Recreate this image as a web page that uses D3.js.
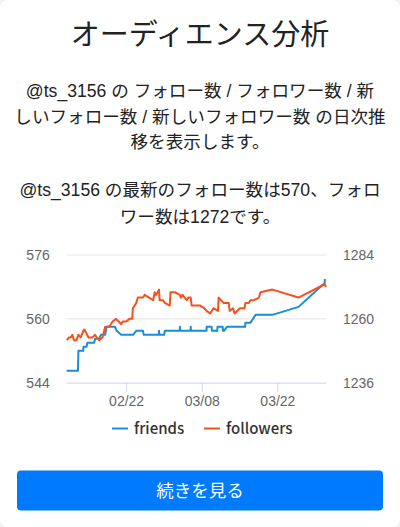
<!DOCTYPE html>
<html>
<head>
<meta charset="utf-8">
<script src="https://cdn.jsdelivr.net/npm/d3@7"></script>
<style>
  html, body { margin: 0; padding: 0; background: #f2f2f2; }
  svg { display: block; }
</style>
</head>
<body>
<svg id="chart" width="400" height="527"></svg>
<script>
// ---- data ----
const titleText = "オーディエンス分析";
const descLines = [
  "@ts_3156 の フォロー数 / フォロワー数 / 新",
  "しいフォロー数 / 新しいフォロワー数 の日次推",
  "移を表示します。"
];
const latestLines = [
  "@ts_3156 の最新のフォロー数は570、フォロ",
  "ワー数は1272です。"
];
const seriesNames = ["friends", "followers"];
const seriesColors = ["#1a8cd8", "#f4511e"];
const buttonText = "続きを見る";

const friendsTimes = [
  "2021-02-11T00:00","2021-02-13T02:00","2021-02-13T04:00","2021-02-14T01:00","2021-02-14T03:00",
  "2021-02-14T16:00","2021-02-14T20:00","2021-02-16T02:00","2021-02-16T06:00","2021-02-17T00:00",
  "2021-02-17T08:00","2021-02-18T03:00","2021-02-18T09:00","2021-02-19T23:00","2021-02-20T06:00",
  "2021-02-21T02:00","2021-02-23T06:00","2021-02-23T21:00","2021-02-25T03:00","2021-02-25T06:00",
  "2021-02-28T01:00","2021-02-28T02:00","2021-02-28T04:00","2021-03-01T01:00","2021-03-01T04:00",
  "2021-03-03T22:00","2021-03-03T23:00","2021-03-04T00:00","2021-03-05T22:00","2021-03-05T23:00",
  "2021-03-06T00:00","2021-03-08T21:00","2021-03-08T22:00","2021-03-09T20:00","2021-03-09T21:00",
  "2021-03-10T21:00","2021-03-10T22:00","2021-03-11T21:00","2021-03-11T22:00","2021-03-12T03:00",
  "2021-03-12T16:00","2021-03-16T01:00","2021-03-16T02:00","2021-03-17T00:00","2021-03-17T23:00",
  "2021-03-21T02:00","2021-03-25T22:00","2021-03-30T18:00","2021-03-30T19:00"
];
const friendsValues = [
  547,547,552,552,553,
  553,554,554,555,555,
  556,556,558,558,557,
  556,556,557,557,556,
  556,557,556,556,557,
  557,558,557,557,558,
  557,557,558,558,557,
  557,558,558,557,557,
  558,558,559,559,561,
  561,563,569,570
];

const followersTimes = [
  "2021-02-11T00:00","2021-02-11T10:00","2021-02-11T18:00","2021-02-12T01:00","2021-02-12T08:00",
  "2021-02-12T19:00","2021-02-13T04:00","2021-02-13T14:00","2021-02-14T05:00","2021-02-14T13:00",
  "2021-02-15T01:00","2021-02-15T19:00","2021-02-16T05:00","2021-02-16T14:00","2021-02-17T00:00",
  "2021-02-17T15:00","2021-02-18T03:00","2021-02-18T21:00","2021-02-19T12:00","2021-02-20T03:00",
  "2021-02-20T15:00","2021-02-21T02:00","2021-02-21T09:00","2021-02-22T00:00","2021-02-22T15:00",
  "2021-02-23T03:00","2021-02-23T06:00","2021-02-23T21:00","2021-02-24T04:00","2021-02-25T03:00",
  "2021-02-25T10:00","2021-02-26T06:00","2021-02-27T00:00","2021-02-27T07:00","2021-02-27T14:00",
  "2021-02-28T02:00","2021-02-28T05:00","2021-02-28T20:00","2021-03-01T04:00","2021-03-02T02:00",
  "2021-03-02T05:00","2021-03-03T00:00","2021-03-03T23:00","2021-03-04T03:00","2021-03-04T11:00",
  "2021-03-05T05:00","2021-03-05T12:00","2021-03-05T23:00","2021-03-06T03:00","2021-03-07T02:00",
  "2021-03-07T17:00","2021-03-08T11:00","2021-03-08T22:00","2021-03-09T13:00","2021-03-10T04:00",
  "2021-03-11T00:00","2021-03-11T03:00","2021-03-12T01:00","2021-03-13T00:00","2021-03-13T04:00",
  "2021-03-13T19:00","2021-03-14T02:00","2021-03-15T01:00","2021-03-15T22:00","2021-03-16T02:00",
  "2021-03-16T17:00","2021-03-17T00:00","2021-03-17T16:00","2021-03-18T14:00","2021-03-18T21:00",
  "2021-03-21T02:00","2021-03-25T22:00","2021-03-30T18:00","2021-03-31T00:00"
];
const followersValues = [
  1252,1253,1253,1254,1252,
  1252,1254,1253,1256,1255,
  1253,1253,1254,1253,1252,
  1253,1257,1257,1259,1260,
  1259,1258,1259,1259,1260,
  1260,1264,1266,1268,1268,
  1269,1268,1267,1270,1269,
  1271,1267,1267,1266,1265,
  1270,1270,1269,1268,1269,
  1267,1268,1268,1265,1265,
  1265,1264,1263,1262,1264,
  1263,1268,1266,1266,1263,
  1264,1262,1264,1264,1266,
  1266,1267,1267,1268,1270,
  1271,1268,1273,1272
];

const leftTicks = [544, 560, 576];
const rightTicks = [1236, 1260, 1284];
const xTickDates = ["2021-02-22T00:00", "2021-03-08T00:00", "2021-03-22T00:00"];

// ---- drawing ----
const parse = d3.isoParse;
const svg = d3.select("#chart");
const FONT = "'Helvetica Neue', 'Liberation Sans', 'Noto Sans CJK JP', sans-serif";
const JPFONT = "'Noto Sans CJK JP', sans-serif";

// card
svg.append("rect").attr("x", 0).attr("y", 0).attr("width", 400).attr("height", 527)
  .attr("rx", 8).attr("fill", "#fff");

svg.append("text").attr("x", 200).attr("y", 45).attr("text-anchor", "middle")
  .attr("font-family", FONT).attr("font-size", 29).attr("fill", "#222")
  .text(titleText);

svg.append("g").selectAll("text").data(descLines).join("text")
  .attr("x", 200).attr("y", (d, i) => 97 + i * 25.5)
  .attr("text-anchor", "middle").attr("font-family", FONT).attr("font-size", 17.6).attr("fill", "#222")
  .text(d => d);

svg.append("g").selectAll("text").data(latestLines).join("text")
  .attr("x", 200).attr("y", (d, i) => 196 + i * 26.5)
  .attr("text-anchor", "middle").attr("font-family", FONT).attr("font-size", 17.6).attr("fill", "#222")
  .text(d => d);

const plot = { left: 66.7, right: 326, top: 255, bottom: 382.7 };
const fData = friendsTimes.map((t, i) => ({ t: parse(t), v: friendsValues[i] }));
const foData = followersTimes.map((t, i) => ({ t: parse(t), v: followersValues[i] }));
const allT = fData.concat(foData).map(d => d.t);

const x = d3.scaleTime().domain(d3.extent(allT)).range([plot.left, plot.right]);
const yL = d3.scaleLinear().domain([544, 576]).range([plot.bottom, plot.top]);
const yR = d3.scaleLinear().domain([1236, 1284]).range([plot.bottom, plot.top]);

// gridlines
svg.append("g").selectAll("line").data(leftTicks.slice(1)).join("line")
  .attr("x1", plot.left).attr("x2", plot.right)
  .attr("y1", d => yL(d)).attr("y2", d => yL(d))
  .attr("stroke", "#e6e6e6").attr("stroke-width", 1);

// left axis
const gL = svg.append("g").attr("transform", `translate(${plot.left - 17},0)`)
  .call(d3.axisLeft(yL).tickValues(leftTicks).tickFormat(d3.format("d")).tickSize(0).tickPadding(0));
gL.select(".domain").remove();
gL.selectAll("text").attr("font-family", FONT).attr("font-size", 14).attr("fill", "#666");

// right axis
const gR = svg.append("g").attr("transform", `translate(${plot.right + 17},0)`)
  .call(d3.axisRight(yR).tickValues(rightTicks).tickFormat(d3.format("d")).tickSize(0).tickPadding(0));
gR.select(".domain").remove();
gR.selectAll("text").attr("font-family", FONT).attr("font-size", 14).attr("fill", "#666");

// bottom axis
const gB = svg.append("g").attr("transform", `translate(0,${plot.bottom})`)
  .call(d3.axisBottom(x).tickValues(xTickDates.map(parse)).tickFormat(d3.timeFormat("%m/%d"))
    .tickSize(9).tickPadding(4).tickSizeOuter(0));
gB.select(".domain").attr("stroke", "#ccd6eb").attr("d", `M${plot.left},0.5H${plot.right}`);
gB.selectAll(".tick line").attr("stroke", "#ccd6eb");
gB.selectAll("text").attr("font-family", FONT).attr("font-size", 14).attr("fill", "#666");

// lines
const lineL = d3.line().x(d => x(d.t)).y(d => yL(d.v));
const lineR = d3.line().x(d => x(d.t)).y(d => yR(d.v));
svg.append("path").datum(fData).attr("d", lineL).attr("fill", "none")
  .attr("stroke", seriesColors[0]).attr("stroke-width", 2).attr("stroke-linejoin", "round");
svg.append("path").datum(foData).attr("d", lineR).attr("fill", "none")
  .attr("stroke", seriesColors[1]).attr("stroke-width", 2).attr("stroke-linejoin", "round");

// legend
const legendX = [112, 204];
const lg = svg.append("g").selectAll("g").data(seriesNames).join("g")
  .attr("transform", (d, i) => `translate(${legendX[i]},428.5)`);
lg.append("line").attr("x1", 0).attr("x2", 16).attr("y1", 0).attr("y2", 0)
  .attr("stroke", (d, i) => seriesColors[i]).attr("stroke-width", 2);
lg.append("text").attr("x", 22).attr("y", 5).attr("font-family", JPFONT)
  .attr("font-size", 15).attr("font-weight", 500).attr("fill", "#333").text(d => d);

// button
svg.append("rect").attr("x", 17).attr("y", 470.5).attr("width", 366).attr("height", 40)
  .attr("rx", 4).attr("fill", "#007bff");
svg.append("text").attr("x", 200).attr("y", 497).attr("text-anchor", "middle")
  .attr("font-family", FONT).attr("font-size", 17.5).attr("fill", "#fff").text(buttonText);
</script>
</body>
</html>
